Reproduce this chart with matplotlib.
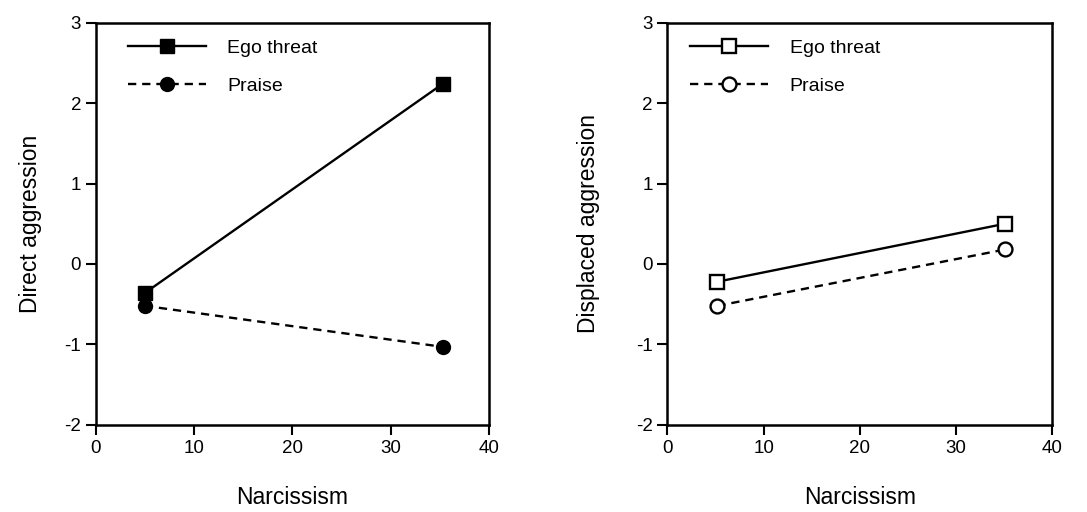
import matplotlib.pyplot as plt

plt.rcParams['font.family'] = ['Liberation Sans', 'DejaVu Sans']
plt.rcParams['axes.unicode_minus'] = False

narcissism = [5, 35.3]
direct_ego = [-0.36, 2.24]
direct_praise = [-0.52, -1.03]
displaced_x = [5.2, 35.1]
displaced_ego = [-0.22, 0.50]
displaced_praise = [-0.52, 0.18]

fig = plt.figure(figsize=(10.87, 5.12), dpi=100)
ax1 = fig.add_axes([0.088, 0.170, 0.362, 0.786])
ax2 = fig.add_axes([0.614, 0.170, 0.354, 0.786])


def style(ax, ylabel, ypad, legx):
    ax.set_xlim(0, 40)
    ax.set_ylim(-2, 3)
    ax.set_xticks([0, 10, 20, 30, 40])
    ax.set_yticks([-2, -1, 0, 1, 2, 3])
    ax.tick_params(direction='out', length=7, width=1.5, labelsize=13.5,
                   top=False, right=False)
    for s in ax.spines.values():
        s.set_linewidth(1.8)
    ax.set_xlabel('Narcissism', fontsize=16.5, labelpad=21)
    ax.set_ylabel(ylabel, fontsize=16.5, labelpad=ypad)
    ax.legend(loc='upper left', frameon=False, handlelength=4.0,
              fontsize=14, borderaxespad=0.45, labelspacing=1.05,
              handletextpad=1.1, bbox_to_anchor=(legx, 1.0))


ax1.plot(narcissism, direct_ego, '-', color='black', lw=1.7,
         marker='s', markersize=10, label='Ego threat')
ax1.plot(narcissism, direct_praise, '--', color='black', lw=1.7,
         marker='o', markersize=10, label='Praise', dashes=(3.5, 2.5))
style(ax1, 'Direct aggression', 16, 0.04)

ax2.plot(displaced_x, displaced_ego, '-', color='black', lw=1.7,
         marker='s', markersize=10, markerfacecolor='white',
         markeredgewidth=1.7, label='Ego threat')
ax2.plot(displaced_x, displaced_praise, '--', color='black', lw=1.7,
         marker='o', markersize=10, markerfacecolor='white',
         markeredgewidth=1.7, label='Praise', dashes=(3.5, 2.5))
style(ax2, 'Displaced aggression', 26, 0.017)

fig.savefig('out.png', dpi=100)
